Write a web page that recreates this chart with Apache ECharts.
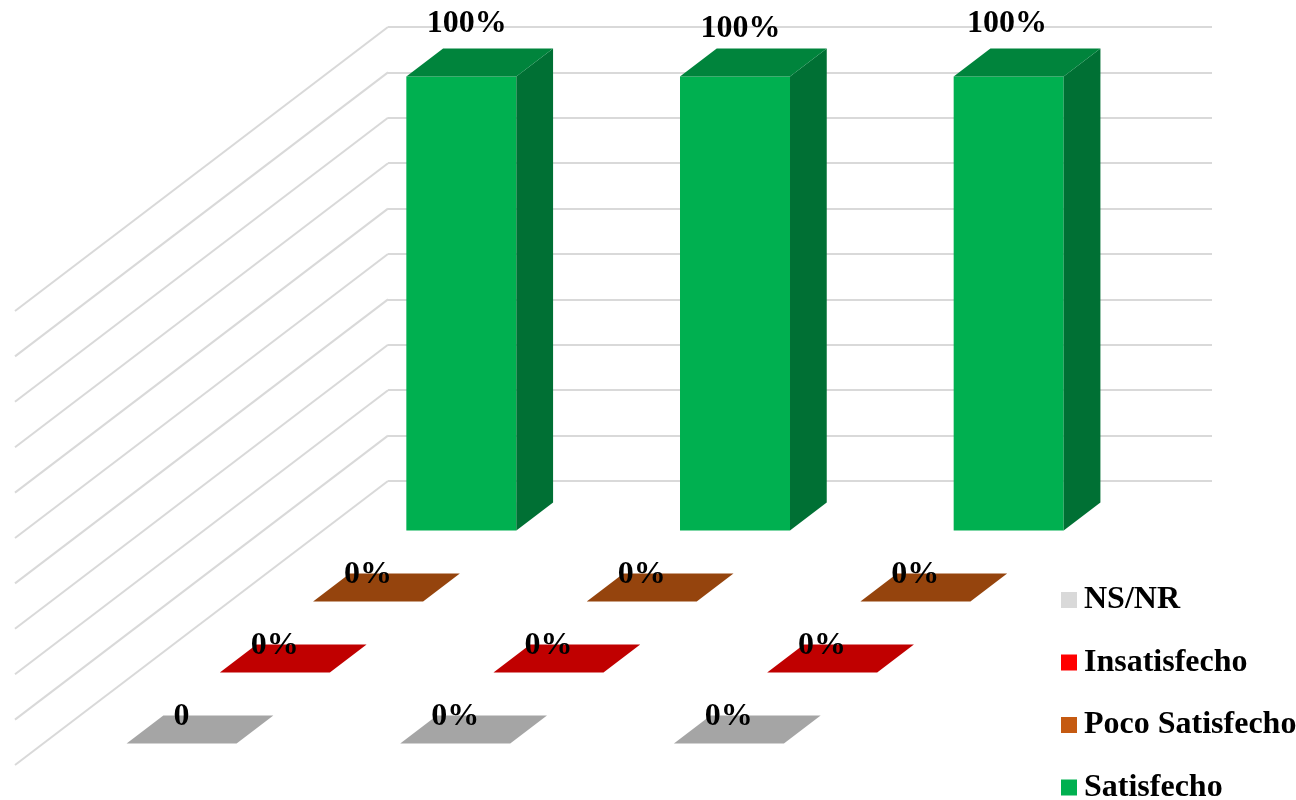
<!DOCTYPE html>
<html>
<head>
<meta charset="utf-8">
<style>
  html, body { margin: 0; padding: 0; background: #ffffff; }
  #chart { width: 1296px; height: 800px; }
</style>
<script src="https://cdn.jsdelivr.net/npm/echarts@6/dist/echarts.min.js"></script>
</head>
<body>
<div id="chart"></div>
<script>
// Satisfaction results per group, one row of columns per response level.
const categories = ['Grupo 1', 'Grupo 2', 'Grupo 3'];
const wallTicks = [0, 10, 20, 30, 40, 50, 60, 70, 80, 90, 100];

const satisfecho = [100, 100, 100];
const pocoSatisfecho = [0, 0, 0];
const insatisfecho = [0, 0, 0];
const nsNr = [0, 0, 0];

const satisfechoLabels = ['100%', '100%', '100%'];
const pocoSatisfechoLabels = ['0%', '0%', '0%'];
const insatisfechoLabels = ['0%', '0%', '0%'];
const nsNrLabels = ['0', '0%', '0%'];

const legendOrder = ['NS/NR', 'Insatisfecho', 'Poco Satisfecho', 'Satisfecho'];

// Oblique projection: one depth unit moves a point left and down the floor.
const DEPTH_X = -93.25;
const DEPTH_Y = 71;
const ROW_COUNT = 4;
const BAR_WIDTH = 110;
const BAR_DEPTH = 0.394;

const FONT = '"Liberation Serif", "Times New Roman", serif';

function project(api, categoryIndex, value, depth, dx) {
  const p = api.coord([categoryIndex, value]);
  return [p[0] + dx + depth * DEPTH_X, p[1] + depth * DEPTH_Y];
}

// Column drawn as front, side and top faces, with its label above the top face.
function makeColumnRenderer(row, texts, colors, labelOffsets) {
  return function (params, api) {
    const i = api.value(0);
    const v = api.value(1);
    const front = row + 0.5 + BAR_DEPTH / 2;
    const back = row + 0.5 - BAR_DEPTH / 2;
    const half = BAR_WIDTH / 2;
    const fbl = project(api, i, 0, front, -half);
    const fbr = project(api, i, 0, front, half);
    const ftl = project(api, i, v, front, -half);
    const ftr = project(api, i, v, front, half);
    const bbr = project(api, i, 0, back, half);
    const btl = project(api, i, v, back, -half);
    const btr = project(api, i, v, back, half);
    const off = labelOffsets[params.dataIndex];
    const children = [];
    if (v > 0) {
      children.push({
        type: 'polygon',
        shape: { points: [fbl, fbr, ftr, ftl] },
        style: { fill: colors.front }
      });
      children.push({
        type: 'polygon',
        shape: { points: [fbr, bbr, btr, ftr] },
        style: { fill: colors.side }
      });
    }
    children.push({
      type: 'polygon',
      shape: { points: [ftl, ftr, btr, btl] },
      style: { fill: colors.top }
    });
    children.push({
      type: 'text',
      z2: 10,
      style: {
        x: (ftl[0] + btr[0]) / 2 + off[0],
        y: (ftl[1] + btr[1]) / 2 + off[1],
        text: texts[params.dataIndex],
        fill: '#000000',
        font: 'bold 32px ' + FONT,
        align: 'center',
        verticalAlign: 'middle'
      }
    });
    return { type: 'group', children: children };
  };
}

function columnSeries(name, row, values, texts, colors, labelOffsets) {
  return {
    type: 'custom',
    name: name,
    coordinateSystem: 'cartesian2d',
    xAxisIndex: 1,
    yAxisIndex: 1,
    clip: false,
    silent: true,
    z: 10 + row,
    itemStyle: { color: colors.front },
    data: values.map(function (v, i) { return [i, v]; }),
    renderItem: makeColumnRenderer(row, texts, colors, labelOffsets)
  };
}

const flatLabelOffset = [[-18.5, -13], [-18.5, -13], [-18.5, -13]];

const hiddenAxisParts = {
  axisLine: { show: false },
  axisTick: { show: false },
  axisLabel: { show: false }
};

const option = {
  animation: false,
  backgroundColor: '#ffffff',
  // First grid holds the back wall rulings, second one the columns.
  grid: [
    { left: 388, top: 27, width: 824, height: 454 },
    { left: 389.5, top: 27, width: 821, height: 454 }
  ],
  xAxis: [
    Object.assign({ type: 'category', gridIndex: 0, data: categories, splitLine: { show: false } }, hiddenAxisParts),
    Object.assign({ type: 'category', gridIndex: 1, data: categories, splitLine: { show: false } }, hiddenAxisParts)
  ],
  yAxis: [
    Object.assign({
      type: 'value',
      gridIndex: 0,
      min: 0,
      max: 100,
      interval: 10,
      splitLine: { show: true, lineStyle: { color: '#d9d9d9', width: 2 } }
    }, hiddenAxisParts),
    Object.assign({
      type: 'value',
      gridIndex: 1,
      min: 0,
      max: 100,
      interval: 10,
      splitLine: { show: false }
    }, hiddenAxisParts)
  ],
  legend: {
    orient: 'vertical',
    left: 1061,
    top: 584,
    height: 260,
    padding: 0,
    itemWidth: 16,
    itemHeight: 16,
    itemGap: 30.5,
    selectedMode: false,
    icon: 'rect',
    data: legendOrder,
    textStyle: {
      fontFamily: FONT,
      fontWeight: 'bold',
      fontSize: 32,
      color: '#000000',
      padding: [0, 0, 0, 2]
    }
  },
  series: [
    // Side wall rulings running from the back wall towards the viewer.
    {
      type: 'custom',
      name: 'pared',
      coordinateSystem: 'cartesian2d',
      clip: false,
      silent: true,
      z: 1,
      data: wallTicks.map(function (t) { return [0, t]; }),
      renderItem: function (params, api) {
        const v = api.value(1);
        const rect = params.coordSys;
        const y = api.coord([0, v])[1];
        return {
          type: 'line',
          shape: {
            x1: rect.x,
            y1: y,
            x2: rect.x + ROW_COUNT * DEPTH_X,
            y2: y + ROW_COUNT * DEPTH_Y
          },
          style: { stroke: '#d9d9d9', lineWidth: 2, fill: null }
        };
      }
    },
    columnSeries('Satisfecho', 0, satisfecho, satisfechoLabels,
      { front: '#00b050', top: '#00843c', side: '#007034' },
      [[-13, -39], [-13, -34], [-20, -39]]),
    columnSeries('Poco Satisfecho', 1, pocoSatisfecho, pocoSatisfechoLabels,
      { front: '#c55a11', top: '#95440d', side: '#7d390b' }, flatLabelOffset),
    columnSeries('Insatisfecho', 2, insatisfecho, insatisfechoLabels,
      { front: '#ff0000', top: '#c00000', side: '#a20000' }, flatLabelOffset),
    columnSeries('NS/NR', 3, nsNr, nsNrLabels,
      { front: '#d9d9d9', top: '#a5a5a5', side: '#8a8a8a' }, flatLabelOffset)
  ]
};

const chart = echarts.init(document.getElementById('chart'), null, { renderer: 'canvas' });
chart.setOption(option);
</script>
</body>
</html>
